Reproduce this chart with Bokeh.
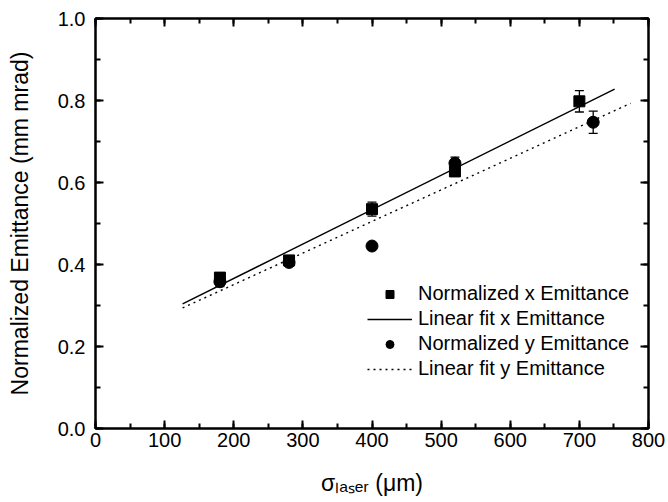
from bokeh.plotting import figure
from bokeh.models import (Range1d, LinearAxis, SingleIntervalTicker, Whisker, ColumnDataSource,
                          Legend, LegendItem, PrintfTickFormatter)
from bokeh.embed import file_html
from bokeh.resources import INLINE

# data
sx = [180, 280, 400, 520, 700]
ex = [0.368, 0.410, 0.535, 0.627, 0.798]
ex_err = [0.012, 0.008, 0.017, 0.010, 0.026]
sy = [180, 280, 400, 520, 720]
ey = [0.358, 0.405, 0.445, 0.647, 0.747]
ey_err = [0.012, 0.008, 0.008, 0.015, 0.027]
fit_x_x = [126, 751]
fit_x_y = [0.304, 0.828]
fit_y_x = [126, 774]
fit_y_y = [0.294, 0.793]

FONT = "Liberation Sans"

p = figure(width=668, height=502, output_backend="svg", toolbar_location=None,
           x_range=Range1d(0, 800), y_range=Range1d(0, 1.0),
           min_border_left=95, min_border_right=20, min_border_top=18, min_border_bottom=74)
p.grid.visible = False
p.outline_line_color = "black"
p.outline_line_width = 2
p.background_fill_color = "white"
p.border_fill_color = "white"


def style(ax, labels=True):
    ax.axis_line_width = 2
    ax.axis_line_color = "black"
    ax.major_tick_in = 8
    ax.major_tick_out = 0
    ax.minor_tick_in = 5
    ax.minor_tick_out = 0
    ax.major_tick_line_width = 2
    ax.minor_tick_line_width = 2
    ax.major_label_text_font = FONT
    ax.major_label_text_font_size = "20px"
    ax.major_label_text_color = "black"
    if not labels:
        ax.major_label_text_alpha = 0
        ax.major_label_text_font_size = "1px"
        ax.major_label_standoff = 0


p.xaxis.ticker = SingleIntervalTicker(interval=100, num_minor_ticks=2)
p.yaxis.ticker = SingleIntervalTicker(interval=0.2, num_minor_ticks=2)
p.yaxis.formatter = PrintfTickFormatter(format="%.1f")
p.xaxis.formatter = PrintfTickFormatter(format="%d")
style(p.xaxis[0])
style(p.yaxis[0])
p.xaxis.major_label_standoff = 4
p.yaxis.major_label_standoff = 10

p.yaxis.axis_label = "Normalized Emittance (mm mrad)"
p.yaxis.axis_label_text_font = FONT
p.yaxis.axis_label_text_font_size = "23px"
p.yaxis.axis_label_text_font_style = "normal"
p.yaxis.axis_label_text_color = "black"
p.yaxis.axis_label_standoff = 22

p.xaxis.axis_label = "σₗₐₛₑᵣ (μm)"
p.xaxis.axis_label_text_font = FONT
p.xaxis.axis_label_text_font_size = "23px"
p.xaxis.axis_label_text_font_style = "normal"
p.xaxis.axis_label_text_color = "black"
p.xaxis.axis_label_standoff = 20

top = LinearAxis(ticker=SingleIntervalTicker(interval=100, num_minor_ticks=2))
right = LinearAxis(ticker=SingleIntervalTicker(interval=0.2, num_minor_ticks=2))
style(top, False)
style(right, False)
p.add_layout(top, "above")
p.add_layout(right, "right")

srcx = ColumnDataSource(dict(x=sx, y=ex, lo=[a - b for a, b in zip(ex, ex_err)], hi=[a + b for a, b in zip(ex, ex_err)]))
srcy = ColumnDataSource(dict(x=sy, y=ey, lo=[a - b for a, b in zip(ey, ey_err)], hi=[a + b for a, b in zip(ey, ey_err)]))

for s in (srcx, srcy):
    w = Whisker(source=s, base="x", lower="lo", upper="hi", line_color="black", line_width=1.3)
    w.upper_head.size = 9
    w.lower_head.size = 9
    w.upper_head.line_width = 1.3
    w.lower_head.line_width = 1.3
    p.add_layout(w)

l1 = p.line(fit_x_x, fit_x_y, line_color="black", line_width=1.4)
l2 = p.line(fit_y_x, fit_y_y, line_color="black", line_width=1.4, line_dash="2 4")
r1 = p.scatter("x", "y", source=srcx, marker="square", size=11, color="black")
r2 = p.scatter("x", "y", source=srcy, marker="circle", size=12, color="black")

legend = Legend(items=[
    LegendItem(label="Normalized x Emittance", renderers=[r1]),
    LegendItem(label="Linear fit x Emittance", renderers=[l1]),
    LegendItem(label="Normalized y Emittance", renderers=[r2]),
    LegendItem(label="Linear fit y Emittance", renderers=[l2]),
], location=(272, 48))
legend.border_line_color = None
legend.background_fill_alpha = 0
legend.label_text_font = FONT
legend.label_text_font_size = "20px"
legend.label_text_color = "black"
legend.glyph_width = 45
legend.glyph_height = 20
legend.label_height = 20
legend.spacing = 2
legend.padding = 0
legend.margin = 0
legend.label_standoff = 6
p.add_layout(legend, "center")

open("out.html", "w").write(file_html(p, INLINE))
